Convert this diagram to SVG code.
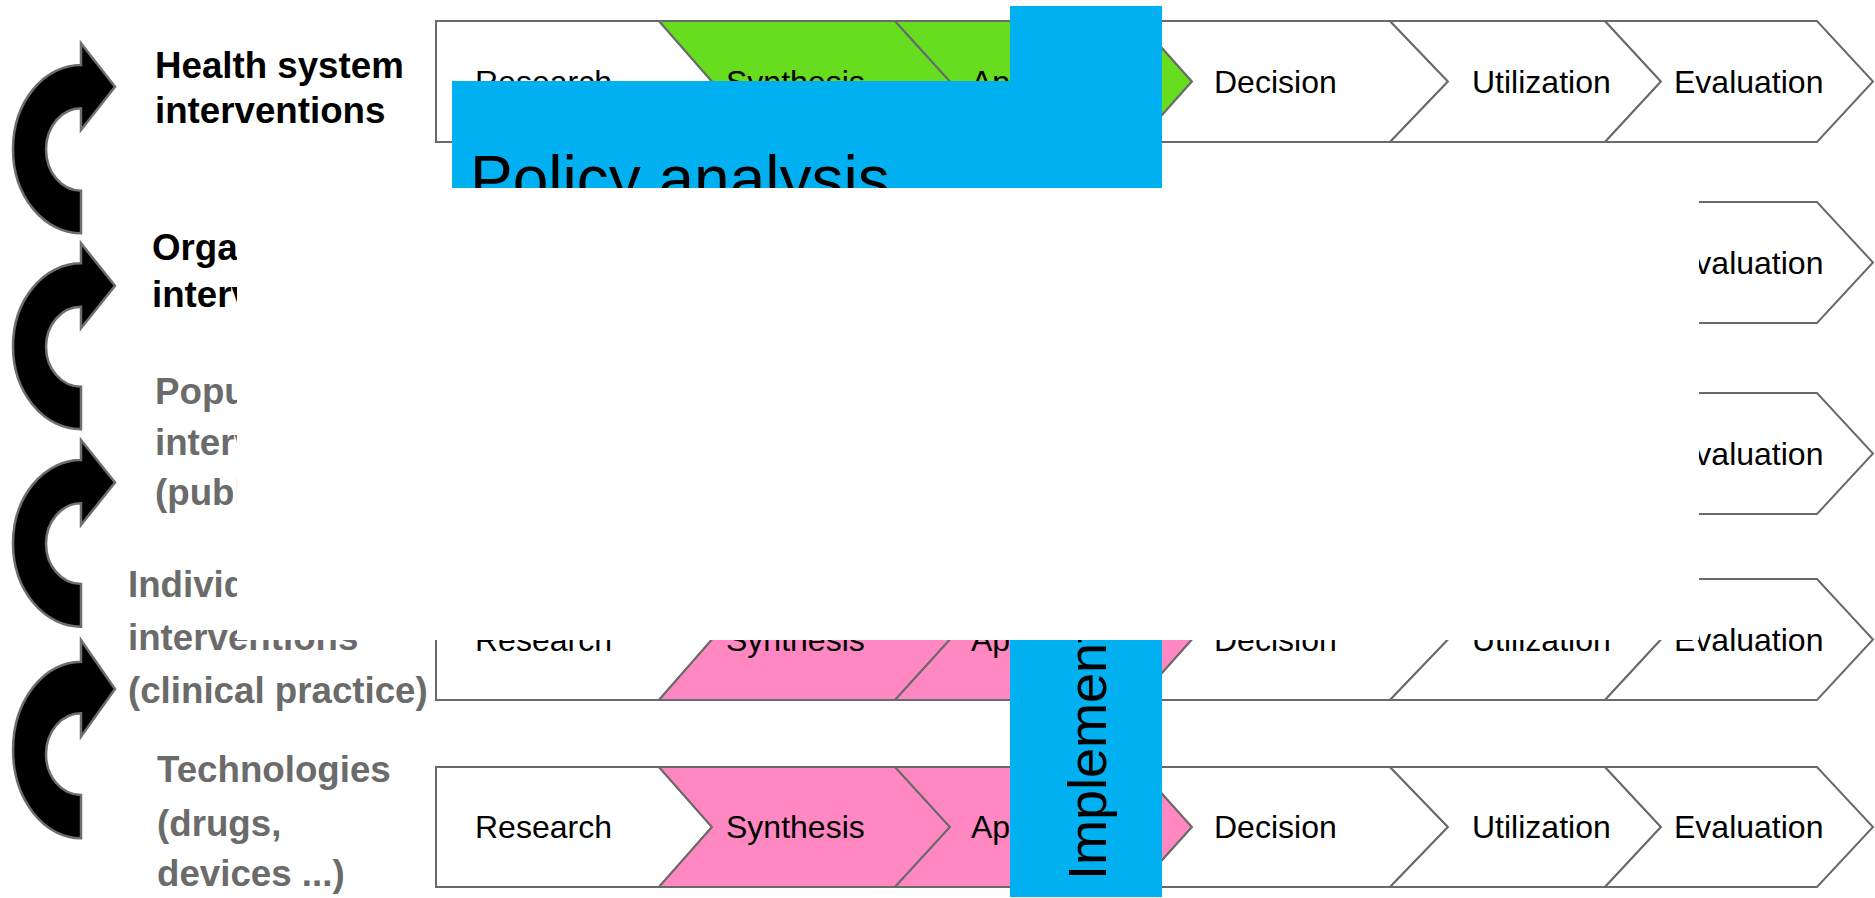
<svg xmlns="http://www.w3.org/2000/svg" width="1875" height="898" viewBox="0 0 1875 898">
<style>
.lbl{font-family:"Liberation Sans",Arial,sans-serif;font-weight:bold;font-size:36.7px}
.dark{fill:#000}
.grey{fill:#6b6b6b}
.seg{stroke:#6a6a6a;stroke-width:2}
.w{fill:#fff}
.g{fill:#66dd1f}
.p{fill:#ff88c2}
.st{font-family:"Liberation Sans",Arial,sans-serif;font-size:32px;fill:#000}
.arr{fill:#000;stroke:#6e6e6e;stroke-width:2.5}
.blue{fill:#00b0f0}
.bt{font-family:"Liberation Sans",Arial,sans-serif;fill:#000}
</style>
<rect width="1875" height="898" fill="#fff"/>
<g id="cycle-arrows">
<path class="arr" d="M81,65 V43.3 L115,86.7 L81,130 V108.3 A35,41.2 0 0 0 81,190.7 V233.3 A68,84.15 0 0 1 81,65 Z"/>
<path class="arr" d="M81,263.3 V243.3 L115,285.8 L81,328.3 V306.7 A35,40 0 0 0 81,386.7 V429.3 A68,83 0 0 1 81,263.3 Z"/>
<path class="arr" d="M81,460 V440 L115,482.5 L81,525 V503.3 A35,40.35 0 0 0 81,584 V626.7 A68,83.35 0 0 1 81,460 Z"/>
<path class="arr" d="M81,661.7 V640 L115,689 L81,736.7 V713.3 A35,40.85 0 0 0 81,795 V838.3 A68,88.3 0 0 1 81,661.7 Z"/>
</g>
<g id="label-health-system">
<text class="lbl dark" x="155" y="78">Health system</text>
<text class="lbl dark" x="155" y="123">interventions</text>
</g>
<g id="label-organizational">
<text class="lbl dark" x="152" y="260">Organizational</text>
<text class="lbl dark" x="152" y="307">interventions</text>
</g>
<g id="label-population">
<text class="lbl grey" x="155" y="404">Population</text>
<text class="lbl grey" x="155" y="455">interventions</text>
<text class="lbl grey" x="155" y="505">(public health)</text>
</g>
<g id="label-individual">
<text class="lbl grey" x="128" y="597">Individual</text>
<text class="lbl grey" x="128" y="650">interventions</text>
<text class="lbl grey" x="128" y="703">(clinical practice)</text>
</g>
<g id="label-technologies">
<text class="lbl grey" x="157" y="782">Technologies</text>
<text class="lbl grey" x="157" y="836">(drugs,</text>
<text class="lbl grey" x="157" y="886">devices ...)</text>
</g>
<g id="row-health-system" transform="translate(0,21)">
<path class="seg w" d="M436,0 H659 L712,60.5 L659,121 H436 Z"/>
<path class="seg g" d="M659,0 H895 L950,60.5 L895,121 H659 L712,60.5 Z"/>
<path class="seg g" d="M895,0 H1138 L1192,60.5 L1138,121 H895 L950,60.5 Z"/>
<path class="seg w" d="M1138,0 H1390 L1448,60.5 L1390,121 H1138 L1192,60.5 Z"/>
<path class="seg w" d="M1390,0 H1605 L1661,60.5 L1605,121 H1390 L1448,60.5 Z"/>
<path class="seg w" d="M1605,0 H1817 L1873,60.5 L1817,121 H1605 L1661,60.5 Z"/>
<text class="st" x="475" y="71.5">Research</text>
<text class="st" x="726" y="71.5">Synthesis</text>
<text class="st" x="971" y="71.5">Application</text>
<text class="st" x="1214" y="71.5">Decision</text>
<text class="st" x="1472" y="71.5">Utilization</text>
<text class="st" x="1674" y="71.5">Evaluation</text>
</g>
<g id="row-organizational" transform="translate(0,202)">
<path class="seg w" d="M436,0 H659 L712,60.5 L659,121 H436 Z"/>
<path class="seg w" d="M659,0 H895 L950,60.5 L895,121 H659 L712,60.5 Z"/>
<path class="seg w" d="M895,0 H1138 L1192,60.5 L1138,121 H895 L950,60.5 Z"/>
<path class="seg w" d="M1138,0 H1390 L1448,60.5 L1390,121 H1138 L1192,60.5 Z"/>
<path class="seg w" d="M1390,0 H1605 L1661,60.5 L1605,121 H1390 L1448,60.5 Z"/>
<path class="seg w" d="M1605,0 H1817 L1873,60.5 L1817,121 H1605 L1661,60.5 Z"/>
<text class="st" x="1674" y="71.5">Evaluation</text>
</g>
<g id="row-population" transform="translate(0,393)">
<path class="seg w" d="M436,0 H659 L712,60.5 L659,121 H436 Z"/>
<path class="seg w" d="M659,0 H895 L950,60.5 L895,121 H659 L712,60.5 Z"/>
<path class="seg w" d="M895,0 H1138 L1192,60.5 L1138,121 H895 L950,60.5 Z"/>
<path class="seg w" d="M1138,0 H1390 L1448,60.5 L1390,121 H1138 L1192,60.5 Z"/>
<path class="seg w" d="M1390,0 H1605 L1661,60.5 L1605,121 H1390 L1448,60.5 Z"/>
<path class="seg w" d="M1605,0 H1817 L1873,60.5 L1817,121 H1605 L1661,60.5 Z"/>
<text class="st" x="1674" y="71.5">Evaluation</text>
</g>
<g id="row-individual" transform="translate(0,579)">
<path class="seg w" d="M436,0 H659 L712,60.5 L659,121 H436 Z"/>
<path class="seg p" d="M659,0 H895 L950,60.5 L895,121 H659 L712,60.5 Z"/>
<path class="seg p" d="M895,0 H1138 L1192,60.5 L1138,121 H895 L950,60.5 Z"/>
<path class="seg w" d="M1138,0 H1390 L1448,60.5 L1390,121 H1138 L1192,60.5 Z"/>
<path class="seg w" d="M1390,0 H1605 L1661,60.5 L1605,121 H1390 L1448,60.5 Z"/>
<path class="seg w" d="M1605,0 H1817 L1873,60.5 L1817,121 H1605 L1661,60.5 Z"/>
<text class="st" x="475" y="71.5">Research</text>
<text class="st" x="726" y="71.5">Synthesis</text>
<text class="st" x="971" y="71.5">Application</text>
<text class="st" x="1214" y="71.5">Decision</text>
<text class="st" x="1472" y="71.5">Utilization</text>
<text class="st" x="1674" y="71.5">Evaluation</text>
</g>
<g id="row-technologies" transform="translate(0,767)">
<path class="seg w" d="M436,0 H659 L712,60 L659,120 H436 Z"/>
<path class="seg p" d="M659,0 H895 L950,60 L895,120 H659 L712,60 Z"/>
<path class="seg p" d="M895,0 H1138 L1192,60 L1138,120 H895 L950,60 Z"/>
<path class="seg w" d="M1138,0 H1390 L1448,60 L1390,120 H1138 L1192,60 Z"/>
<path class="seg w" d="M1390,0 H1605 L1661,60 L1605,120 H1390 L1448,60 Z"/>
<path class="seg w" d="M1605,0 H1817 L1873,60 L1817,120 H1605 L1661,60 Z"/>
<text class="st" x="475" y="71">Research</text>
<text class="st" x="726" y="71">Synthesis</text>
<text class="st" x="971" y="71">Application</text>
<text class="st" x="1214" y="71">Decision</text>
<text class="st" x="1472" y="71">Utilization</text>
<text class="st" x="1674" y="71">Evaluation</text>
</g>
<g id="implementation">
<rect class="blue" x="1010" y="6" width="152" height="891"/>
<text class="bt" font-size="54" transform="translate(1106,880) rotate(-90)">Implementation</text>
</g>
<g id="policy-analysis">
<rect class="blue" x="452" y="81" width="710" height="160"/>
<text class="bt" font-size="64" x="470" y="201">Policy analysis</text>
</g>
<g id="overlay">
<rect x="237" y="188" width="1462" height="452" fill="#fff"/>
</g>
</svg>
